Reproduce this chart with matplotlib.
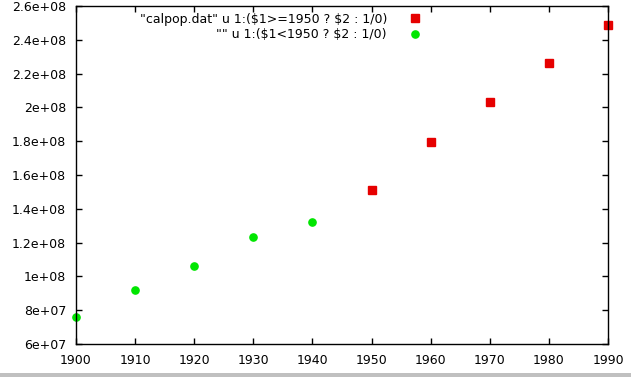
import matplotlib
matplotlib.use('Agg')
import matplotlib.pyplot as plt
from matplotlib.patches import Rectangle

# US census population, split at 1950
years_new = [1950, 1960, 1970, 1980, 1990]
pop_new = [151.3e6, 179.3e6, 203.3e6, 226.5e6, 248.7e6]
years_old = [1900, 1910, 1920, 1930, 1940]
pop_old = [76.2e6, 92.2e6, 106.0e6, 123.2e6, 132.2e6]

xticks = [1900, 1910, 1920, 1930, 1940, 1950, 1960, 1970, 1980, 1990]
yticks = [6e7, 8e7, 1e8, 1.2e8, 1.4e8, 1.6e8, 1.8e8, 2e8, 2.2e8, 2.4e8, 2.6e8]
ylabels = ['6e+07', '8e+07', '1e+08', '1.2e+08', '1.4e+08', '1.6e+08',
           '1.8e+08', '2e+08', '2.2e+08', '2.4e+08', '2.6e+08']

label_new = '"calpop.dat" u 1:(\\$1>=1950 ? \\$2 : 1/0)'
label_old = '"" u 1:(\\$1<1950 ? \\$2 : 1/0)'

W, H = 631, 377
fig = plt.figure(figsize=(W / 100, H / 100), dpi=100)
ax = fig.add_axes([76 / W, 1 - 344 / H, (608 - 76) / W, (344 - 6) / H])

p1, = ax.plot(years_new, pop_new, linestyle='none', marker='s',
              markersize=5.5, color='#e60000', clip_on=False)
p2, = ax.plot(years_old, pop_old, linestyle='none', marker='o',
              markersize=5.2, color='#00e600', clip_on=False)

ax.set_xlim(1900, 1990)
ax.set_ylim(6e7, 2.6e8)
ax.set_xticks(xticks)
ax.set_yticks(yticks)
ax.set_yticklabels(ylabels)
ax.tick_params(direction='in', length=4, width=1, top=True, right=True,
               labelsize=9, pad=7, colors='black')
for s in ax.spines.values():
    s.set_linewidth(1)

# gnuplot style key: text right aligned, marker on the right
fs = 9
for h, lab, yy in [(p1, label_new, 19), (p2, label_old, 35)]:
    fig.legend([h], [lab], loc='center right',
               bbox_to_anchor=(427 / W, 1 - yy / H), frameon=False,
               markerfirst=False, fontsize=fs, borderpad=0,
               borderaxespad=0, handlelength=2, handletextpad=1.2)

# grey window edge at the bottom
fig.patches.append(Rectangle((0, 0), 1, 4 / H, transform=fig.transFigure,
                             facecolor='#c0c0c0', edgecolor='none'))

fig.savefig('out.png', dpi=100)
